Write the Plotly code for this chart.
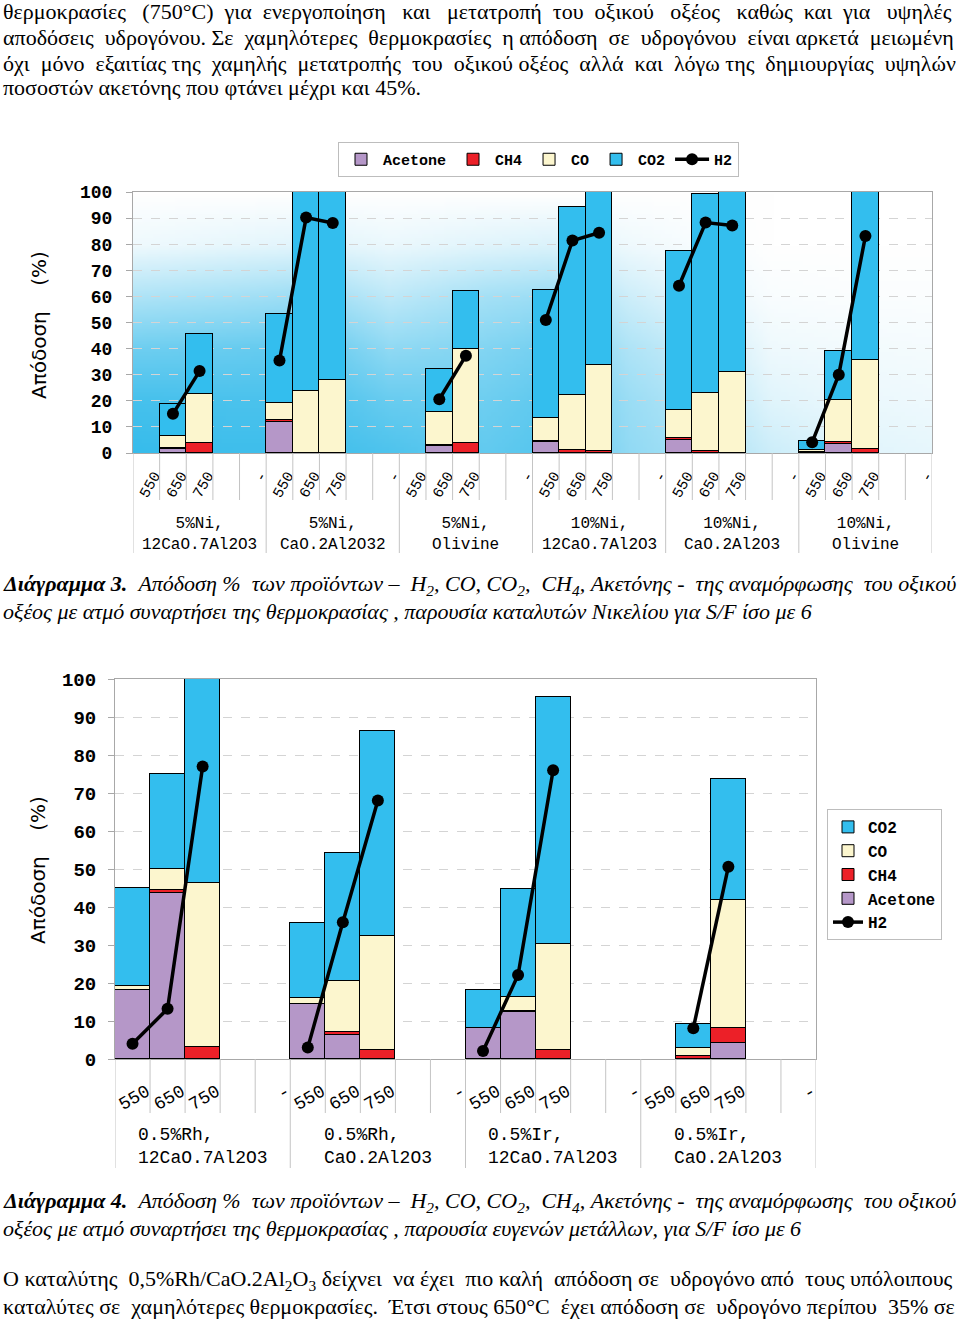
import base64
import struct
import zlib

import numpy as np
import plotly.graph_objects as go

W, H = 960, 1320

# ------------------------------------------------------------------ data
temps = ["550", "650", "750"]
slot_labels = ["550", "650", "750", "", "-"]

groups1 = ["5%Ni,<br>12CaO.7Al2O3", "5%Ni,<br>CaO.2Al2O32", "5%Ni,<br>Olivine",
           "10%Ni,<br>12CaO.7Al2O3", "10%Ni,<br>CaO.2Al2O3", "10%Ni,<br>Olivine"]
acetone1 = [None, 1.5, 0.0,  12.0, 0.0, 0.0,  None, 2.8, 0.0,  4.1, 0.0, 0.0,  4.9, 0.0, 0.0,  0.3, 3.6, 0.0]
ch4_1 = [None, 0.5, 4.0,  0.5, 0.0, 0.0,  None, 0.2, 4.0,  0.5, 1.0, 0.9,  1.0, 0.6, 0.0,  0.0, 0.5, 1.7]
co_1 = [None, 4.5, 18.7,  6.8, 23.6, 28.1,  None, 12.8, 36.0,  8.8, 21.1, 32.9,  10.6, 22.4, 31.0,  0.7, 16.3, 34.1]
co2_1 = [None, 12.4, 23.0,  34.1, 76.4, 71.9,  None, 16.3, 22.2,  49.2, 72.3, 66.2,  61.0, 76.1, 69.0,  3.5, 18.8, 64.2]
h2_1 = [None, 15.0, 31.4,  35.4, 90.2, 88.1,  None, 20.6, 37.3,  51.0, 81.4, 84.4,  64.1, 88.3, 87.2,  4.1, 30.0, 83.1]

groups2 = ["0.5%Rh,<br>12CaO.7Al2O3", "0.5%Rh,<br>CaO.2Al2O3",
           "0.5%Ir,<br>12CaO.7Al2O3", "0.5%Ir,<br>CaO.2Al2O3"]
acetone2 = [18.2, 43.6, 0.0,  14.5, 6.3, 0.0,  8.1, 12.3, 0.0,  None, 0.0, 4.1]
ch4_2 = [0.0, 0.9, 3.2,  0.0, 0.7, 2.5,  0.0, 0.3, 2.4,  None, 0.8, 4.0]
co_2 = [0.9, 5.5, 43.0,  1.5, 13.4, 30.0,  0.0, 3.6, 27.8,  None, 2.0, 33.8]
co2_2 = [25.9, 25.0, 53.8,  19.9, 33.9, 53.9,  10.1, 28.5, 65.0,  None, 6.3, 31.9]
h2_2 = [4.0, 13.2, 77.0,  3.0, 36.0, 68.0,  2.1, 22.1, 76.0,  None, 8.1, 50.6]

series_names = ["Acetone", "CH4", "CO", "CO2"]

# ------------------------------------------------------------------ style
COLORS = {"Acetone": "#B597C8", "CH4": "#EC2028", "CO": "#FCF6CE", "CO2": "#33BEEE"}
SERIF = "Liberation Serif"
MONO = "Liberation Mono"
SANS = "DejaVu Sans"
GRID = "#D4D4D4"
FRAME = "#A8A8A8"
DIV = "#C4C4C4"
NSLOT = len(slot_labels)
TEXT_SIZE = 22

BOX1 = (133, 192, 932, 453)
BOX2 = (115, 679, 816, 1059)


def px(x):
    return x / W


def py(y):
    return 1 - y / H


BG_X = [0.0, 0.12, 0.22, 0.32, 0.44, 0.52, 0.62, 0.72, 0.80, 0.90, 1.0]
BG_Y = [0.0, 0.2, 0.4, 0.6, 0.8, 1.0]
BG_LEVEL = [
    [0.00, 0.00, 0.00, 0.00, 0.00, 0.00, 0.00, 0.00, 0.00, 0.00, 0.00],
    [0.08, 0.12, 0.15, 0.10, 0.15, 0.18, 0.08, 0.03, 0.00, 0.00, 0.00],
    [0.40, 0.45, 0.50, 0.32, 0.45, 0.50, 0.25, 0.10, 0.03, 0.02, 0.02],
    [0.72, 0.75, 0.78, 0.55, 0.62, 0.70, 0.40, 0.25, 0.08, 0.06, 0.05],
    [0.92, 0.90, 0.90, 0.75, 0.72, 0.80, 0.50, 0.35, 0.15, 0.10, 0.08],
    [1.00, 0.96, 0.96, 0.88, 0.78, 0.85, 0.55, 0.42, 0.25, 0.15, 0.12],
]
BG_BLUE = np.array([55, 188, 235], dtype=float)


def gradient_uri(w=220, h=66):
    lv = np.array(BG_LEVEL)
    xs = np.linspace(0, 1, w)
    ys = np.linspace(0, 1, h)
    rows = np.array([np.interp(xs, BG_X, r) for r in lv])
    full = np.array([np.interp(ys, BG_Y, rows[:, j]) for j in range(w)]).T
    white = np.array([255.0, 255.0, 255.0])
    img = (white[None, None, :] * (1 - full[..., None]) + BG_BLUE[None, None, :] * full[..., None])
    img = np.clip(img, 0, 255).astype(np.uint8)
    raw = b"".join(b"\x00" + img[i].tobytes() for i in range(h))

    def chunk(t, d):
        return struct.pack(">I", len(d)) + t + d + struct.pack(">I", zlib.crc32(t + d) & 0xFFFFFFFF)

    png = (b"\x89PNG\r\n\x1a\n"
           + chunk(b"IHDR", struct.pack(">IIBBBBB", w, h, 8, 2, 0, 0, 0))
           + chunk(b"IDAT", zlib.compress(raw, 9))
           + chunk(b"IEND", b""))
    return "data:image/png;base64," + base64.b64encode(png).decode()


fig = go.Figure()


def add_chart(values, h2, ngroups, xa, ya, legend, ranks):
    for name, vals in zip(series_names, values):
        xs, ys = [], []
        for g in range(ngroups):
            for t in range(len(temps)):
                v = vals[g * len(temps) + t]
                if v is not None:
                    xs.append(g * NSLOT + t)
                    ys.append(v)
        fig.add_trace(go.Bar(
            x=xs, y=ys, name=name, width=1, xaxis=xa, yaxis=ya,
            marker=dict(color=COLORS[name], line=dict(color="black", width=1)),
            legend=legend, legendrank=ranks[name]))
    hx, hy = [], []
    for g in range(ngroups):
        for s in range(NSLOT):
            hx.append(g * NSLOT + s)
            hy.append(h2[g * len(temps) + s] if s < len(temps) else None)
    fig.add_trace(go.Scatter(
        x=hx, y=hy, name="H2", mode="lines+markers", xaxis=xa, yaxis=ya,
        line=dict(color="black", width=3.5), marker=dict(color="black", size=12),
        connectgaps=False, legend=legend, legendrank=ranks["H2"]))


add_chart([acetone1, ch4_1, co_1, co2_1], h2_1, len(groups1), "x", "y", "legend",
          {"Acetone": 1, "CH4": 2, "CO": 3, "CO2": 4, "H2": 5})
add_chart([acetone2, ch4_2, co_2, co2_2], h2_2, len(groups2), "x2", "y2", "legend2",
          {"CO2": 1, "CO": 2, "CH4": 3, "Acetone": 4, "H2": 5})

n1 = len(groups1) * NSLOT
n2 = len(groups2) * NSLOT


def xaxis(box, n, angle, size, shift, standoff):
    vals = [i for i in range(n) if slot_labels[i % NSLOT]]
    return dict(domain=[px(box[0]), px(box[2])], range=[-0.5, n - 0.5],
                tickmode="array", tickvals=vals,
                ticktext=[slot_labels[i % NSLOT] for i in vals], tickangle=angle,
                tickfont=dict(family=MONO, size=size, color="black"),
                ticks="", showgrid=False, zeroline=False,
                showline=True, linecolor=FRAME, mirror=True,
                ticklabelshift=shift, ticklabelstandoff=standoff, fixedrange=True)


def yaxis(box, size, standoff):
    return dict(domain=[py(box[3]), py(box[1])], range=[0, 100], dtick=10,
                tickfont=dict(family=MONO, size=size, color="black", weight="bold"),
                ticks="outside", ticklen=6, tickcolor=FRAME,
                showgrid=True, gridcolor=GRID, griddash="dash", zeroline=False,
                showline=True, linecolor=FRAME, mirror=True,
                ticklabelstandoff=standoff, fixedrange=True)


fig.update_layout(
    autosize=True, margin=dict(l=0, r=0, t=0, b=0, autoexpand=False),
    paper_bgcolor="white", plot_bgcolor="rgba(0,0,0,0)",
    barmode="stack", bargap=0, showlegend=True,
    xaxis=xaxis(BOX1, n1, -60, 15, 8, 7),
    yaxis=yaxis(BOX1, 18, 10),
    xaxis2=dict(xaxis(BOX2, n2, -30, 18, 14, 14), anchor="y2"),
    yaxis2=dict(yaxis(BOX2, 19, 8), anchor="x2"),
    legend=dict(orientation="h", x=px(338), y=py(142), xanchor="left", yanchor="top",
                font=dict(family=MONO, size=15, color="black", weight="bold"),
                bgcolor="white", bordercolor="#BDBDBD", borderwidth=1,
                traceorder="normal", itemwidth=34),
    legend2=dict(orientation="v", x=px(827), y=py(809), xanchor="left", yanchor="top",
                 font=dict(family=MONO, size=16, color="black", weight="bold"),
                 bgcolor="white", bordercolor="#BDBDBD", borderwidth=1,
                 traceorder="normal", tracegroupgap=0, itemwidth=30),
    images=[dict(source=gradient_uri(), xref="paper", yref="paper",
                 x=px(BOX1[0]), y=py(BOX1[1]), sizex=px(BOX1[2]) - px(BOX1[0]),
                 sizey=py(BOX1[1]) - py(BOX1[3]), xanchor="left", yanchor="top",
                 sizing="stretch", layer="below")],
)

shapes = []
annotations = []


def dividers(n, xref, box, short_bottom, long_bottom):
    for k in range(n + 1):
        bottom = long_bottom if k % NSLOT == 0 else short_bottom
        shapes.append(dict(type="line", xref=xref, yref="paper", x0=k - 0.5, x1=k - 0.5,
                           y0=py(box[3]), y1=py(bottom), line=dict(color=DIV, width=1)))


dividers(n1, "x", BOX1, 500, 553)
dividers(n2, "x2", BOX2, 1113, 1168)

for g, lab in enumerate(groups1):
    annotations.append(dict(text=lab, xref="x", yref="paper", x=g * NSLOT + (NSLOT - 1) / 2,
                            y=py(534), xanchor="center", yanchor="middle",
                            showarrow=False, align="center",
                            font=dict(family=MONO, size=16, color="black")))
for g, lab in enumerate(groups2):
    annotations.append(dict(text=lab, xref="x2", yref="paper", x=g * NSLOT + (NSLOT - 1) / 2,
                            y=py(1146), xanchor="center", yanchor="middle",
                            showarrow=False, align="left",
                            font=dict(family=MONO, size=18, color="black")))

NB = "\u00a0"
for xx, yy in [(39, 325), (38, 870)]:
    annotations.append(dict(text="Απόδοση" + NB * 4 + "(%)", xref="paper", yref="paper",
                            x=px(xx), y=py(yy), xanchor="center", yanchor="middle",
                            textangle=-90, showarrow=False,
                            font=dict(family=SANS, size=20, color="black")))

body_top = [
    "θερμοκρασίες (750°C) για ενεργοποίηση και μετατροπή του οξικού οξέος καθώς και για υψηλές",
    "αποδόσεις υδρογόνου. Σε χαμηλότερες θερμοκρασίες η απόδοση σε υδρογόνου είναι αρκετά μειωμένη",
    "όχι μόνο εξαιτίας της χαμηλής μετατροπής του οξικού οξέος αλλά και λόγω της δημιουργίας υψηλών",
    "ποσοστών ακετόνης που φτάνει μέχρι και 45%.",
]
body_top_y = [12, 37, 63, 88]
body_top_fill = [18, 8, 11, 0]

cap_head = " Απόδοση % των προϊόντων – H<sub>2</sub>, CO, CO<sub>2</sub>, CH<sub>4</sub>, Ακετόνης - της αναμόρφωσης του οξικού"
caption3 = ["<b>Διάγραμμα 3.</b>" + cap_head,
            "οξέος με ατμό συναρτήσει της θερμοκρασίας , παρουσία καταλυτών Νικελίου για S/F ίσο με 6"]
caption3_y = [585, 611]
caption4 = ["<b>Διάγραμμα 4.</b>" + cap_head,
            "οξέος με ατμό συναρτήσει της θερμοκρασίας , παρουσία ευγενών μετάλλων, για S/F ίσο με 6"]
caption4_y = [1202, 1228]
caption_fill = [6, 0]

body_bottom = [
    "Ο καταλύτης 0,5%Rh/CaO.2Al<sub>2</sub>O<sub>3</sub> δείχνει να έχει πιο καλή απόδοση σε υδρογόνο από τους υπόλοιπους",
    "καταλύτες σε χαμηλότερες θερμοκρασίες. Έτσι στους 650°C έχει απόδοση σε υδρογόνο περίπου 35% σε",
]
body_bottom_y = [1280, 1306]
body_bottom_fill = [6, 5]


def justify(line, n_extra):
    parts = line.split(" ")
    gaps = len(parts) - 1
    if n_extra <= 0 or gaps <= 0:
        return line
    out = parts[0]
    acc = 0
    for i in range(1, len(parts)):
        target = round(n_extra * i / gaps)
        add = target - acc
        acc = target
        out += " " + NB * add + parts[i]
    return out


def add_lines(lines, ys, fills, italic=False):
    for t, yy, nf in zip(lines, ys, fills):
        annotations.append(dict(text=justify(t, nf), xref="paper", yref="paper", x=px(1), y=py(yy),
                                xanchor="left", yanchor="middle", showarrow=False,
                                font=dict(family=SERIF, size=TEXT_SIZE, color="black",
                                          style="italic" if italic else "normal")))


add_lines(body_top, body_top_y, body_top_fill)
add_lines(caption3, caption3_y, caption_fill, italic=True)
add_lines(caption4, caption4_y, caption_fill, italic=True)
add_lines(body_bottom, body_bottom_y, body_bottom_fill)

fig.update_layout(shapes=shapes, annotations=annotations)

PIN = ("var gd=document.getElementById('{plot_id}');"
       "gd.style.position='fixed';gd.style.left='0px';gd.style.top='0px';"
       "document.body.style.margin='0px';"
       "document.documentElement.style.overflow='hidden';document.body.style.overflow='hidden';")
fig.write_html("out.html", config={"displayModeBar": False, "responsive": True},
               default_width="100vw", default_height="100vh", post_script=PIN)
